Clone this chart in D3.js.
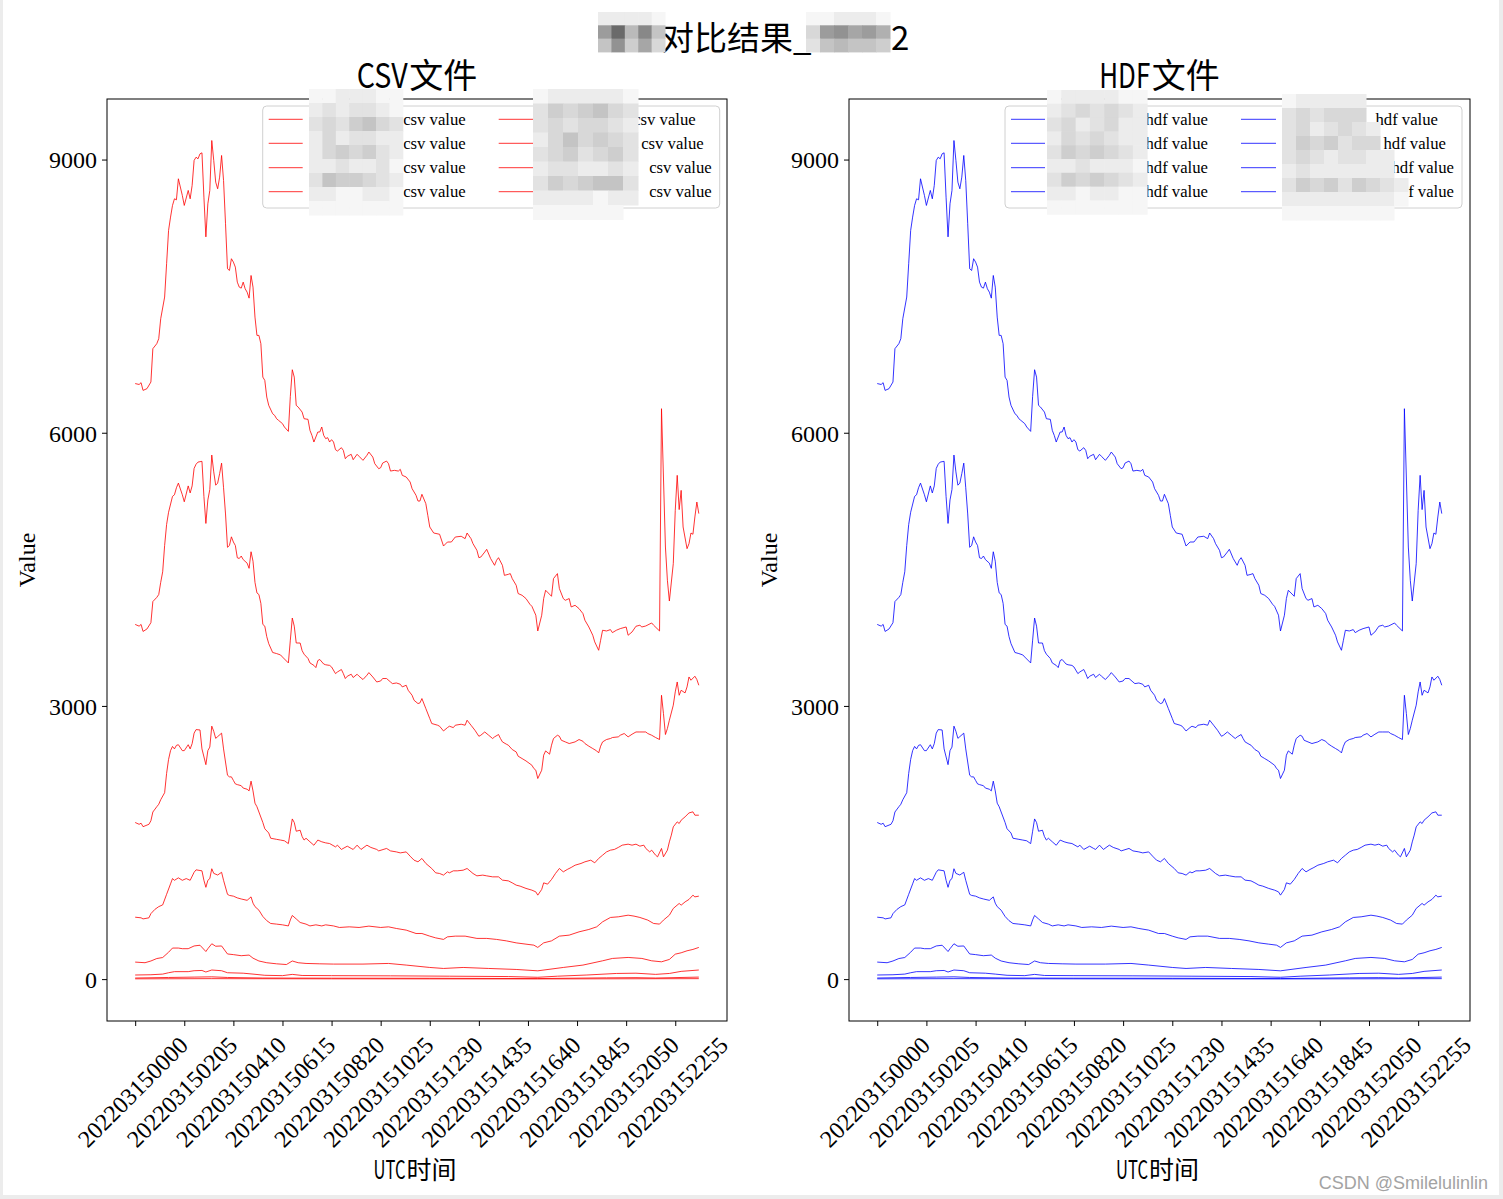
<!DOCTYPE html>
<html><head><meta charset="utf-8">
<script src="https://cdn.jsdelivr.net/npm/d3@7"></script>
<style>
html,body{margin:0;padding:0;background:#ffffff;}
svg{display:block}
</style></head><body>
<svg id="chart" width="1503" height="1199"></svg>
<script>
// ---------- categories / ticks ----------
const times = d3.range(288).map(i => {
  const m = i * 5;
  return "20220315" + String(Math.floor(m / 60)).padStart(2, "0") + String(m % 60).padStart(2, "0");
});
const tickLabels = ["202203150000","202203150205","202203150410","202203150615","202203150820","202203151025",
  "202203151230","202203151435","202203151640","202203151845","202203152050","202203152255"];
const yTicks = [0, 3000, 6000, 9000];

// ---------- series values: [time index, value] ----------
const s1 = [[0,6540],[2,6530],[3,6550],[4,6465],[6,6484],[8,6557],[9,6923],[11,6978],[12,7033],[13,7252],[15,7490],[16,7856],[17,8222],[18,8368],[19,8496],[20,8569],[21,8558],[22,8789],[24,8606],[25,8496],[27,8661],[28,8569],[29,8716],[30,8990],[31,9026],[32,9008],[33,9063],[34,9074],[35,8587],[36,8151],[37,8514],[38,8661],[39,9209],[40,8990],[41,8752],[42,8679],[43,8807],[44,9045],[45,8770],[46,8295],[47,7801],[48,7782],[49,7911],[50,7874],[51,7819],[52,7654],[53,7599],[54,7588],[55,7654],[56,7581],[57,7544],[58,7478],[59,7727],[60,7599],[61,7270],[62,7069],[63,7069],[64,6978],[65,6611],[66,6575],[67,6392],[68,6301],[70,6209],[71,6191],[72,6154],[73,6136],[75,6100],[76,6063],[78,6015],[79,6400],[80,6692],[81,6611],[82,6301],[83,6282],[85,6227],[86,6154],[88,6147],[89,6026],[90,5971],[91,5898],[93,6008],[94,6008],[95,6063],[96,5971],[97,5935],[98,5946],[99,5898],[100,5924],[101,5898],[102,5814],[103,5799],[105,5836],[106,5806],[107,5715],[108,5741],[110,5763],[111,5704],[113,5763],[114,5741],[116,5697],[118,5752],[119,5788],[121,5733],[122,5660],[124,5605],[125,5616],[126,5667],[128,5689],[129,5660],[130,5579],[132,5587],[134,5579],[135,5598],[136,5532],[138,5514],[140,5459],[141,5386],[143,5313],[144,5250],[145,5250],[146,5324],[148,5221],[149,5093],[150,4965],[152,4899],[155,4885],[157,4756],[159,4800],[161,4800],[163,4855],[166,4863],[168,4837],[169,4899],[171,4837],[172,4782],[174,4709],[175,4628],[176,4635],[178,4690],[179,4720],[181,4618],[183,4544],[184,4599],[185,4628],[187,4544],[188,4434],[190,4445],[191,4453],[192,4398],[194,4325],[195,4234],[197,4215],[199,4179],[201,4116],[202,4094],[204,3996],[205,3823],[207,3996],[208,4179],[209,4270],[212,4204],[213,4398],[215,4453],[216,4289],[218,4179],[219,4160],[221,4179],[222,4087],[224,4105],[226,4069],[228,4014],[229,3941],[231,3867],[233,3776],[234,3703],[236,3611],[237,3721],[238,3831],[240,3823],[242,3838],[243,3805],[245,3831],[247,3849],[250,3867],[251,3776],[253,3812],[255,3875],[257,3886],[258,3867],[260,3878],[263,3911],[264,3886],[267,3823],[268,6264],[270,4745],[271,4380],[272,4152],[274,4563],[275,5148],[276,5532],[277,5156],[278,5367],[279,4965],[281,4727],[282,4782],[283,4899],[284,4885],[285,5075],[286,5239],[287,5112]];

const s2 = [[0,3895],[2,3876],[3,3895],[4,3818],[6,3845],[8,3914],[9,4146],[11,4192],[12,4223],[13,4357],[14,4473],[15,4762],[16,4992],[17,5127],[19,5301],[20,5319],[21,5396],[22,5447],[24,5319],[25,5242],[27,5416],[28,5339],[29,5416],[30,5608],[31,5654],[32,5678],[34,5686],[35,5301],[36,5004],[37,5262],[38,5377],[39,5755],[40,5570],[41,5424],[42,5447],[43,5551],[44,5666],[45,5396],[46,5108],[47,4742],[48,4762],[49,4857],[50,4800],[51,4762],[52,4627],[53,4619],[54,4646],[55,4607],[57,4568],[58,4511],[59,4693],[60,4589],[61,4357],[62,4241],[63,4223],[64,4126],[65,3895],[66,3876],[67,3761],[68,3684],[70,3587],[72,3575],[74,3560],[75,3537],[78,3472],[79,3722],[80,3965],[81,3876],[82,3691],[84,3691],[85,3607],[86,3568],[88,3521],[89,3472],[91,3445],[92,3421],[93,3498],[94,3510],[96,3460],[97,3452],[99,3445],[100,3428],[102,3355],[103,3373],[105,3400],[106,3355],[107,3301],[108,3326],[110,3348],[111,3312],[113,3348],[114,3326],[116,3290],[118,3337],[119,3366],[121,3318],[123,3263],[125,3274],[126,3301],[128,3301],[130,3263],[131,3245],[133,3252],[135,3238],[136,3209],[138,3227],[139,3172],[141,3117],[142,3062],[144,3026],[145,3033],[146,3081],[148,2971],[150,2862],[151,2807],[154,2788],[155,2777],[157,2725],[159,2762],[160,2777],[162,2762],[163,2788],[166,2799],[168,2788],[169,2843],[171,2788],[173,2733],[175,2667],[176,2678],[178,2714],[180,2678],[182,2642],[183,2660],[185,2686],[186,2642],[187,2605],[189,2580],[190,2569],[192,2521],[194,2495],[195,2448],[197,2422],[199,2396],[202,2349],[203,2313],[204,2294],[205,2203],[207,2294],[208,2459],[209,2506],[211,2470],[212,2569],[213,2642],[215,2678],[216,2667],[217,2623],[219,2605],[221,2587],[224,2605],[226,2631],[228,2612],[229,2587],[231,2558],[233,2532],[235,2506],[236,2484],[237,2558],[238,2605],[240,2631],[242,2642],[243,2653],[246,2660],[247,2678],[249,2697],[251,2660],[253,2689],[255,2714],[257,2714],[260,2714],[261,2697],[263,2678],[265,2653],[267,2631],[268,3117],[269,2916],[270,2686],[271,2752],[272,2843],[274,3008],[275,3154],[276,3263],[277,3117],[278,3172],[280,3143],[281,3209],[282,3318],[283,3282],[285,3326],[286,3290],[287,3227]];

const s3 = [[0,1720],[2,1700],[3,1712],[4,1674],[7,1700],[8,1739],[9,1835],[11,1893],[12,1920],[13,1970],[15,2047],[16,2259],[17,2413],[18,2509],[19,2555],[20,2528],[21,2567],[22,2574],[24,2509],[25,2509],[27,2574],[28,2528],[29,2586],[30,2701],[31,2740],[33,2736],[34,2528],[36,2355],[37,2509],[38,2548],[39,2778],[40,2721],[41,2644],[42,2663],[44,2701],[45,2528],[47,2239],[48,2221],[49,2221],[50,2182],[51,2144],[52,2136],[54,2124],[55,2098],[57,2085],[58,2067],[59,2174],[60,2067],[61,1932],[62,1893],[63,1835],[65,1720],[66,1651],[68,1605],[69,1547],[72,1535],[74,1527],[76,1519],[78,1488],[79,1624],[80,1759],[81,1720],[82,1624],[84,1635],[85,1566],[86,1527],[87,1547],[89,1508],[91,1470],[93,1527],[95,1508],[97,1496],[99,1489],[102,1452],[103,1471],[105,1424],[108,1460],[110,1435],[111,1424],[113,1471],[115,1424],[118,1471],[120,1446],[123,1424],[124,1408],[128,1435],[130,1408],[133,1397],[135,1386],[138,1397],[140,1350],[142,1306],[144,1288],[146,1325],[148,1270],[151,1215],[153,1167],[155,1160],[157,1142],[159,1178],[160,1167],[162,1189],[164,1189],[167,1196],[169,1215],[172,1160],[174,1134],[177,1142],[179,1134],[182,1123],[185,1123],[187,1087],[190,1079],[192,1057],[194,1032],[196,1021],[199,996],[202,977],[204,958],[205,922],[207,985],[208,1057],[210,1043],[212,1094],[214,1160],[216,1215],[218,1178],[220,1204],[222,1226],[224,1251],[227,1270],[229,1288],[232,1306],[234,1277],[236,1325],[238,1361],[240,1397],[242,1416],[244,1424],[246,1446],[248,1471],[251,1482],[253,1471],[255,1482],[257,1460],[259,1471],[260,1435],[262,1397],[263,1416],[265,1361],[266,1343],[268,1435],[269,1343],[271,1416],[272,1507],[273,1581],[274,1672],[276,1727],[277,1709],[278,1745],[280,1782],[282,1825],[284,1837],[285,1800],[287,1800]];

const s4 = [[0,680],[3,673],[4,661],[7,673],[8,719],[10,765],[12,796],[14,815],[16,931],[18,1046],[19,1104],[20,1085],[22,1112],[24,1085],[26,1104],[28,1085],[30,1173],[31,1200],[34,1189],[35,1085],[36,1008],[37,1085],[38,1104],[39,1212],[40,1161],[42,1143],[44,1173],[45,1085],[47,931],[48,919],[50,911],[52,892],[54,880],[57,865],[59,903],[60,834],[61,796],[63,757],[65,688],[67,642],[69,611],[72,604],[75,596],[78,584],[79,650],[80,699],[82,661],[84,622],[87,604],[89,584],[92,596],[95,584],[97,596],[101,584],[104,567],[109,574],[114,567],[119,582],[125,567],[129,574],[133,556],[138,538],[143,501],[146,501],[150,472],[153,453],[157,436],[159,464],[163,472],[168,472],[174,447],[179,447],[184,436],[189,420],[194,398],[199,384],[203,373],[205,348],[208,398],[212,420],[216,472],[221,483],[226,519],[231,545],[235,574],[238,629],[242,677],[246,684],[251,702],[254,692],[257,677],[261,648],[264,611],[267,604],[269,648],[272,702],[274,776],[277,831],[278,812],[280,848],[282,875],[284,922],[285,903],[287,911]];

const s5 = [[0,187],[5,180],[8,199],[11,226],[14,237],[17,295],[19,341],[22,341],[24,334],[27,334],[30,364],[33,372],[36,303],[37,334],[39,388],[41,361],[44,364],[47,276],[50,269],[54,257],[58,264],[60,230],[63,199],[67,180],[72,168],[77,160],[80,199],[83,180],[87,172],[94,168],[101,165],[116,165],[129,172],[138,154],[150,128],[157,117],[167,128],[180,117],[194,106],[205,91],[218,128],[228,154],[238,201],[243,227],[251,238],[258,227],[263,201],[268,190],[272,216],[275,274],[278,289],[281,311],[284,326],[287,348]];

const s6 = [[0,45],[8,48],[14,55],[17,70],[20,82],[27,82],[30,92],[34,95],[36,78],[39,100],[44,92],[47,70],[55,65],[60,55],[66,42],[75,38],[80,52],[85,40],[100,38],[130,36],[160,32],[190,28],[205,20],[215,32],[230,45],[245,62],[255,65],[265,52],[272,62],[278,85],[287,100]];

const s7 = [[0,12],[17,18],[30,22],[39,25],[47,18],[65,12],[100,10],[150,9],[205,6],[240,14],[255,16],[265,12],[287,22]];

const s8 = [[0,3],[39,5],[100,3],[205,2],[287,5]];

const csvSeries = [s1, s2, s3, s4, s5, s6, s7, s8];
const hdfSeries = [s1, s2, s3, s4, s5, s6, s7, s8];

// ---------- layout ----------
const svg = d3.select("#chart");
svg.append("rect").attr("width", 1503).attr("height", 1199).attr("fill", "#ececec");
svg.append("rect").attr("x", 3).attr("y", 0).attr("width", 1496).attr("height", 1195).attr("fill", "#ffffff");

const plotTop = 99, plotBottom = 1021;
const serif = "'Liberation Serif','Times New Roman',serif";
const cjk = "'Noto Sans CJK SC','Noto Sans',sans-serif";
const tickFs = 24;

function gray(k) { const v = 96 + k * 10; return `rgb(${v},${v},${v})`; }
function mosaic(x0, y0, cw, ch, rows) {
  const g = svg.append("g");
  rows.forEach((row, r) => {
    [...row].forEach((c, j) => {
      if (c === ".") return;
      g.append("rect").attr("x", x0 + j * cw).attr("y", y0 + r * ch)
        .attr("width", cw + 0.5).attr("height", ch + 0.5).attr("fill", gray(parseInt(c, 16)));
    });
  });
}

// condensed latin + CJK label pair, placed side by side without overlap
function pairLabel(cx, cy, latin, latinW, cjkText, fs, gap) {
  const t2 = svg.append("text").attr("y", cy).attr("dy", "0.36em").attr("font-family", cjk).attr("font-size", fs).text(cjkText);
  const w2 = t2.node().getComputedTextLength();
  const t1 = svg.append("text").attr("font-family", cjk).attr("font-size", fs).attr("dy", "0.36em").text(latin);
  const w1 = t1.node().getComputedTextLength();
  const sx = latinW / w1;
  const total = latinW + gap + w2;
  const x0 = cx - total / 2;
  t1.attr("transform", `translate(${x0},${cy}) scale(${sx},1)`);
  t2.attr("x", x0 + latinW + gap);
}

const panels = [
  { left: 107, right: 727, color: "#ff0000", series: csvSeries, latin: "CSV", cjkT: "文件",
    legendWord: "csv value", ylabX: 27, legendX: 262.7,
    mosA: [309, 89, 13.4, 14, ["ffeeeff","ededdef","dcdbacd","eceddee","ecbcbde","eedeedf","dabbcde","eeffeef","fffffff"]],
    mosB: [533, 89, 15, 14.5, ["feeeeef","dbcbacd","dcdccde","ecacbcd","dcbdcbd","eddeede","dbcbaad","eeeefee","ffffff"]] },
  { left: 849, right: 1470, color: "#0000ff", series: hdfSeries, latin: "HDF", cjkT: "文件",
    legendWord: "hdf value", ylabX: 769, legendX: 1005,
    mosA: [1047, 90, 14.3, 13.8, ["feeeeff","edcdcde","dcedcee","ecdcdee","dbcbcde","eedeeef","dbcbcde","eefeeff","fffffff"]],
    mosB: [1282, 94, 14, 14, ["feeeee","dcdccc","dcedcde","dbcbdcc","dcdeddee","edeeeeee","dbcbdbcde","eeeeeeeef","ffffffff"]] }
];

const legendColEnds1 = [203, 203, 203, 203];
const legendColEnds2 = [433, 441, 449, 449];
const legendRows = [13.3, 37.3, 61.7, 85.7];

panels.forEach((p) => {
  const x = d3.scaleLinear().domain([-14.35, 301.35]).range([p.left, p.right]);
  const y = d3.scaleLinear().domain([-460, 9665]).range([plotBottom, plotTop]);
  const g = svg.append("g");

  // lines
  const line = d3.line().x(d => x(d[0])).y(d => y(d[1]));
  p.series.forEach(s => {
    g.append("path").attr("d", line(s)).attr("fill", "none")
      .attr("stroke", p.color).attr("stroke-width", 0.8).attr("stroke-linejoin", "round");
  });

  // frame
  g.append("rect").attr("x", p.left).attr("y", plotTop).attr("width", p.right - p.left).attr("height", plotBottom - plotTop)
    .attr("fill", "none").attr("stroke", "#000").attr("stroke-width", 1);

  // y axis
  const ya = g.append("g").attr("transform", `translate(${p.left},0)`)
    .call(d3.axisLeft(y).tickValues(yTicks).tickSize(5).tickSizeOuter(0).tickPadding(5).tickFormat(d => String(d)));
  ya.select(".domain").remove();
  ya.selectAll("text").attr("font-family", serif).attr("font-size", tickFs).attr("fill", "#000").attr("dy", "0.35em");
  ya.selectAll("line").attr("stroke", "#000");

  // x axis
  const tickIdx = tickLabels.map(l => times.indexOf(l));
  const xa = g.append("g").attr("transform", `translate(0,${plotBottom})`)
    .call(d3.axisBottom(x).tickValues(tickIdx).tickSize(5).tickSizeOuter(0).tickFormat(i => times[i]));
  xa.select(".domain").remove();
  xa.selectAll("line").attr("stroke", "#000");
  xa.selectAll("text").attr("font-family", serif).attr("font-size", tickFs).attr("fill", "#000")
    .attr("text-anchor", "middle").attr("dy", "0.35em").attr("y", 0)
    .each(function () {
      const w = this.getComputedTextLength();
      const h = tickFs * 1.05;
      const off = 5 + 5 + (w + h) * 0.7071 / 2;
      d3.select(this).attr("transform", `translate(-3,${off + 1}) rotate(-45)`);
    });

  // axis labels
  svg.append("text").attr("transform", `translate(${p.ylabX},560) rotate(-90)`)
    .attr("text-anchor", "middle").attr("dy", "0.35em")
    .attr("font-family", serif).attr("font-size", 24).text("Value");

  const cx = (p.left + p.right) / 2;
  pairLabel(cx - 2, 1170, "UTC", 32, "时间", 25, 1);
  pairLabel(cx, 76, p.latin, 51, p.cjkT, 34, 1.5);

  // legend
  const lg = svg.append("g").attr("transform", `translate(${p.legendX},106)`);
  lg.append("rect").attr("x", 0).attr("y", 0).attr("width", 457).attr("height", 102).attr("rx", 4)
    .attr("fill", "#fff").attr("fill-opacity", 0.8).attr("stroke", "#d0d0d0").attr("stroke-width", 1);
  legendRows.forEach((ry, r) => {
    lg.append("line").attr("x1", 6).attr("x2", 40).attr("y1", ry).attr("y2", ry).attr("stroke", p.color).attr("stroke-width", 0.8);
    lg.append("line").attr("x1", 236).attr("x2", 271).attr("y1", ry).attr("y2", ry).attr("stroke", p.color).attr("stroke-width", 0.8);
    lg.append("text").attr("x", legendColEnds1[r]).attr("y", ry).attr("dy", "0.33em").attr("text-anchor", "end")
      .attr("font-family", serif).attr("font-size", 16.7).text(p.legendWord);
    lg.append("text").attr("x", legendColEnds2[r]).attr("y", ry).attr("dy", "0.33em").attr("text-anchor", "end")
      .attr("font-family", serif).attr("font-size", 16.7).text(p.legendWord);
  });
  mosaic(...p.mosA);
  mosaic(...p.mosB);
});

// suptitle
svg.append("text").attr("x", 661).attr("y", 38).attr("dy", "0.36em").attr("font-family", cjk).attr("font-size", 33).text("对比结果_");
svg.append("text").attr("x", 891).attr("y", 38).attr("dy", "0.36em").attr("font-family", cjk).attr("font-size", 33).text("2");
mosaic(598, 12, 13.4, 13.3, ["eeeef", "6194a", "a5b7c"]);
mosaic(806, 12, 14, 13.3, ["ffeeef", "c65768", "da9aab"]);

// watermark
svg.append("text").attr("x", 1488).attr("y", 1189).attr("text-anchor", "end")
  .attr("font-family", "'Liberation Sans',Arial,sans-serif").attr("font-size", 18).attr("fill", "#a3a3a3")
  .text("CSDN @Smilelulinlin");
</script>
</body></html>
